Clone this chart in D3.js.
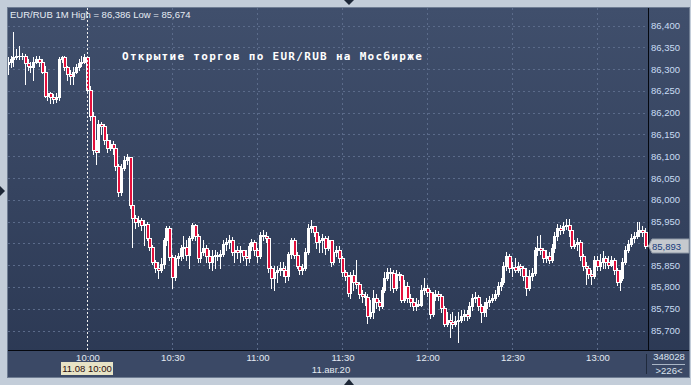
<!DOCTYPE html>
<html>
<head>
<meta charset="utf-8">
<script src="https://cdn.jsdelivr.net/npm/d3@7"></script>
<style>
html, body { margin: 0; padding: 0; background: #c3cdd9; }
svg { display: block; }
</style>
</head>
<body>
<div id="chart"></div>
<script>
// ---------------- data ----------------
const symbol = "EUR/RUB 1M";
const title = "Открытие торгов по EUR/RUB на Мосбирже";
const startTime = [2020, 7, 11, 9, 32];   // first 1-minute bar
const firstOpen = 86.311;
const closes = [
  86.317, 86.322, 86.327, 86.329, 86.331, 86.331, 86.315, 86.306, 86.304, 86.317,
  86.322, 86.317, 86.294, 86.239, 86.244, 86.237, 86.232, 86.237, 86.322, 86.327,
  86.304, 86.288, 86.285, 86.294, 86.304, 86.313, 86.317, 86.327, 86.253, 86.193,
  86.115, 86.110, 86.175, 86.170, 86.138, 86.120, 86.127, 86.120, 86.078, 86.018,
  86.074, 86.092, 86.099, 85.989, 85.959, 85.949, 85.954, 85.943, 85.945, 85.913,
  85.892, 85.857, 85.844, 85.839, 85.853, 85.908, 85.936, 85.869, 85.823, 85.867,
  85.871, 85.890, 85.892, 85.874, 85.913, 85.943, 85.917, 85.867, 85.880, 85.890,
  85.871, 85.857, 85.871, 85.874, 85.871, 85.876, 85.899, 85.903, 85.908, 85.880,
  85.885, 85.880, 85.885, 85.871, 85.867, 85.894, 85.903, 85.885, 85.871, 85.920,
  85.917, 85.913, 85.844, 85.821, 85.834, 85.839, 85.844, 85.839, 85.825, 85.876,
  85.908, 85.874, 85.848, 85.839, 85.844, 85.880, 85.936, 85.940, 85.926, 85.903,
  85.908, 85.913, 85.890, 85.908, 85.857, 85.880, 85.885, 85.867, 85.834, 85.825,
  85.786, 85.828, 85.811, 85.807, 85.784, 85.779, 85.777, 85.733, 85.742, 85.775,
  85.765, 85.756, 85.793, 85.821, 85.834, 85.832, 85.798, 85.830, 85.828, 85.770,
  85.802, 85.775, 85.765, 85.756, 85.761, 85.759, 85.793, 85.798, 85.788, 85.738,
  85.779, 85.784, 85.779, 85.752, 85.715, 85.724, 85.719, 85.715, 85.722, 85.724,
  85.733, 85.738, 85.733, 85.756, 85.775, 85.777, 85.756, 85.742, 85.752, 85.765,
  85.770, 85.775, 85.784, 85.802, 85.811, 85.848, 85.871, 85.844, 85.846, 85.839,
  85.848, 85.844, 85.825, 85.798, 85.825, 85.832, 85.885, 85.890, 85.885, 85.867,
  85.871, 85.862, 85.890, 85.917, 85.936, 85.931, 85.940, 85.943, 85.931, 85.894,
  85.899, 85.903, 85.871, 85.848, 85.844, 85.830, 85.825, 85.862, 85.848, 85.857,
  85.867, 85.857, 85.851, 85.862, 85.839, 85.811, 85.821, 85.857, 85.885, 85.899,
  85.913, 85.917, 85.926, 85.931, 85.926, 85.893
];
const highs = [
  86.327, 86.329, 86.386, 86.345, 86.352, 86.338, 86.334, 86.322, 86.317, 86.327,
  86.329, 86.329, 86.322, 86.306, 86.253, 86.248, 86.242, 86.244, 86.327, 86.331,
  86.329, 86.308, 86.299, 86.304, 86.311, 86.322, 86.329, 86.334, 86.331, 86.262,
  86.202, 86.138, 86.184, 86.179, 86.173, 86.150, 86.138, 86.136, 86.127, 86.081,
  86.081, 86.101, 86.104, 86.099, 85.993, 85.966, 85.963, 85.959, 85.954, 85.949,
  85.917, 85.897, 85.862, 85.857, 85.867, 85.913, 85.940, 85.940, 85.874, 85.874,
  85.878, 85.897, 85.917, 85.908, 85.917, 85.947, 85.945, 85.922, 85.917, 85.908,
  85.897, 85.885, 85.885, 85.885, 85.880, 85.885, 85.908, 85.913, 85.920, 85.915,
  85.897, 85.894, 85.894, 85.885, 85.885, 85.901, 85.910, 85.908, 85.890, 85.926,
  85.931, 85.926, 85.917, 85.848, 85.848, 85.848, 85.857, 85.857, 85.848, 85.880,
  85.913, 85.913, 85.880, 85.857, 85.853, 85.890, 85.945, 85.954, 85.940, 85.931,
  85.917, 85.922, 85.917, 85.917, 85.908, 85.890, 85.894, 85.894, 85.871, 85.839,
  85.828, 85.834, 85.839, 85.862, 85.811, 85.793, 85.788, 85.784, 85.770, 85.793,
  85.784, 85.770, 85.800, 85.834, 85.844, 85.844, 85.839, 85.839, 85.834, 85.830,
  85.816, 85.811, 85.784, 85.775, 85.775, 85.770, 85.805, 85.821, 85.805, 85.793,
  85.788, 85.793, 85.791, 85.784, 85.756, 85.742, 85.738, 85.742, 85.733, 85.742,
  85.747, 85.747, 85.747, 85.765, 85.784, 85.788, 85.782, 85.761, 85.765, 85.775,
  85.779, 85.784, 85.793, 85.811, 85.821, 85.857, 85.880, 85.876, 85.857, 85.867,
  85.857, 85.853, 85.848, 85.844, 85.839, 85.844, 85.892, 85.917, 85.920, 85.890,
  85.885, 85.880, 85.899, 85.926, 85.945, 85.943, 85.949, 85.956, 85.956, 85.936,
  85.908, 85.913, 85.908, 85.876, 85.857, 85.848, 85.839, 85.871, 85.871, 85.876,
  85.883, 85.871, 85.871, 85.871, 85.867, 85.844, 85.839, 85.867, 85.894, 85.908,
  85.922, 85.926, 85.949, 85.949, 85.940, 85.936
];
const lows = [
  86.288, 86.304, 86.308, 86.322, 86.322, 86.322, 86.265, 86.299, 86.294, 86.276,
  86.313, 86.308, 86.292, 86.235, 86.230, 86.223, 86.223, 86.225, 86.230, 86.317,
  86.299, 86.276, 86.265, 86.265, 86.292, 86.299, 86.308, 86.313, 86.248, 86.184,
  86.104, 86.081, 86.110, 86.150, 86.127, 86.110, 86.115, 86.104, 86.069, 86.009,
  86.012, 86.069, 86.081, 85.982, 85.892, 85.936, 85.940, 85.931, 85.897, 85.908,
  85.885, 85.853, 85.834, 85.821, 85.834, 85.844, 85.897, 85.862, 85.798, 85.816,
  85.851, 85.862, 85.867, 85.862, 85.844, 85.908, 85.908, 85.857, 85.857, 85.874,
  85.857, 85.844, 85.839, 85.844, 85.862, 85.844, 85.871, 85.885, 85.890, 85.874,
  85.857, 85.867, 85.857, 85.862, 85.851, 85.857, 85.885, 85.874, 85.857, 85.867,
  85.908, 85.903, 85.834, 85.798, 85.793, 85.811, 85.828, 85.825, 85.811, 85.816,
  85.867, 85.867, 85.844, 85.830, 85.830, 85.839, 85.876, 85.926, 85.917, 85.890,
  85.880, 85.880, 85.876, 85.885, 85.848, 85.853, 85.871, 85.857, 85.825, 85.816,
  85.779, 85.775, 85.793, 85.798, 85.775, 85.765, 85.759, 85.717, 85.729, 85.729,
  85.752, 85.747, 85.752, 85.788, 85.816, 85.793, 85.788, 85.793, 85.816, 85.765,
  85.765, 85.765, 85.756, 85.747, 85.747, 85.756, 85.756, 85.784, 85.779, 85.729,
  85.733, 85.770, 85.770, 85.742, 85.710, 85.710, 85.685, 85.706, 85.710, 85.674,
  85.719, 85.724, 85.724, 85.729, 85.747, 85.765, 85.747, 85.719, 85.733, 85.733,
  85.756, 85.765, 85.770, 85.779, 85.793, 85.807, 85.839, 85.834, 85.825, 85.834,
  85.834, 85.828, 85.816, 85.782, 85.793, 85.816, 85.828, 85.874, 85.876, 85.857,
  85.857, 85.855, 85.857, 85.880, 85.908, 85.922, 85.924, 85.933, 85.917, 85.890,
  85.890, 85.885, 85.862, 85.839, 85.807, 85.821, 85.807, 85.821, 85.839, 85.839,
  85.844, 85.844, 85.844, 85.848, 85.830, 85.805, 85.793, 85.816, 85.853, 85.880,
  85.894, 85.903, 85.913, 85.917, 85.917, 85.890
];
const priceTicks = [85.70, 85.75, 85.80, 85.85, 85.90, 85.95, 86.00, 86.05, 86.10, 86.15, 86.20, 86.25, 86.30, 86.35, 86.40];
const timeTicks = ["10:00", "10:30", "11:00", "11:30", "12:00", "12:30", "13:00"];
const cursorTime = "10:00";
const cursorLabel = "11.08 10:00";
const dateLabel = "11.авг.20";
const volumeLabel = "348028";
const barsLabel = ">226<";

// ---------------- setup ----------------
const w = 691;
const h = 385;
const plot = {left: 8, right: 648, top: 8, bottom: 350};
const panelRight = 689;
const panelBottom = 377;
const font = "Liberation Sans, Arial, sans-serif";

const ru = d3.formatLocale({decimal: ",", thousands: " ", grouping: [3], currency: ["", ""]});
const fmt = ru.format(".3f");
const parseHM = d3.timeParse("%H:%M");
const day = (hm) => {
  const t = parseHM(hm);
  return new Date(2020, 7, 11, t.getHours(), t.getMinutes());
};

const t0 = new Date(...startTime);
const candles = closes.map((c, i) => ({
  t: d3.timeMinute.offset(t0, i),
  o: i === 0 ? firstOpen : closes[i - 1],
  c: c,
  h: Math.max(highs[i], c, i === 0 ? firstOpen : closes[i - 1]),
  l: Math.min(lows[i], c, i === 0 ? firstOpen : closes[i - 1])
}));

const xScale = d3.scaleTime()
  .domain([t0, d3.timeMinute.offset(t0, 198 + 28)])
  .range([7.67, 7.67 + 226 * 2.8333]);
const yScale = d3.scaleLinear()
  .domain([85.7, 86.4])
  .range([330.5, 25.5]);

const svg = d3.select("#chart").append("svg")
  .attr("width", w)
  .attr("height", h);

const defs = svg.append("defs");
const grad = defs.append("linearGradient").attr("id", "bg").attr("x1", 0).attr("y1", 0).attr("x2", 0).attr("y2", 1);
grad.append("stop").attr("offset", "0%").attr("stop-color", "#404f6c");
grad.append("stop").attr("offset", "100%").attr("stop-color", "#2b3853");
defs.append("clipPath").attr("id", "clip").append("rect")
  .attr("x", plot.left).attr("y", plot.top)
  .attr("width", plot.right - plot.left).attr("height", plot.bottom - plot.top);

// ---------------- frame ----------------
svg.append("rect").attr("width", w).attr("height", h).attr("fill", "#c3cdd9");
svg.append("rect")
  .attr("x", plot.left - 0.5).attr("y", plot.top - 0.5)
  .attr("width", panelRight - plot.left + 1).attr("height", panelBottom - plot.top + 1)
  .attr("fill", "url(#bg)").attr("stroke", "#6f7d93");
svg.append("rect")
  .attr("x", plot.left).attr("y", plot.bottom)
  .attr("width", panelRight - plot.left).attr("height", panelBottom - plot.bottom)
  .attr("fill", "#3b4966");
svg.append("line")
  .attr("x1", plot.left).attr("x2", panelRight)
  .attr("y1", plot.bottom + 0.5).attr("y2", plot.bottom + 0.5)
  .attr("stroke", "#05080f");
svg.append("line")
  .attr("x1", plot.right + 0.5).attr("x2", plot.right + 0.5)
  .attr("y1", plot.top).attr("y2", plot.bottom)
  .attr("stroke", "#05080f");
svg.append("line")
  .attr("x1", plot.right - 1.5).attr("x2", plot.right - 1.5)
  .attr("y1", plot.bottom + 4).attr("y2", panelBottom - 3)
  .attr("stroke", "#1f2a3d");

// ---------------- grid ----------------
svg.append("g").selectAll("line")
  .data(priceTicks)
  .enter().append("line")
  .attr("x1", plot.left).attr("x2", plot.right)
  .attr("y1", d => Math.round(yScale(d)) + 0.5)
  .attr("y2", d => Math.round(yScale(d)) + 0.5)
  .attr("stroke", "#5b6b8a")
  .attr("stroke-dasharray", "2,3");

svg.append("g").selectAll("line")
  .data(timeTicks.filter(d => d !== cursorTime))
  .enter().append("line")
  .attr("x1", d => Math.round(xScale(day(d))) + 0.5)
  .attr("x2", d => Math.round(xScale(day(d))) + 0.5)
  .attr("y1", plot.top).attr("y2", plot.bottom)
  .attr("stroke", "#5b6b8a")
  .attr("stroke-dasharray", "2,3");

// ---------------- candles ----------------
const cg = svg.append("g").attr("clip-path", "url(#clip)");
const cx = d => Math.round(xScale(d.t));

cg.selectAll("line.wick")
  .data(candles)
  .enter().append("line")
  .attr("class", "wick")
  .attr("x1", d => cx(d) + 0.5).attr("x2", d => cx(d) + 0.5)
  .attr("y1", d => Math.round(yScale(d.h)))
  .attr("y2", d => Math.round(yScale(d.l)) + 1)
  .attr("stroke", "#ffffff");

const bodyTop = d => Math.round(yScale(Math.max(d.o, d.c)));
const bodyH = d => Math.max(1, Math.round(yScale(Math.min(d.o, d.c))) - bodyTop(d) + 1);

cg.selectAll("rect.body")
  .data(candles)
  .enter().append("rect")
  .attr("class", "body")
  .attr("x", d => cx(d) - 1)
  .attr("y", bodyTop)
  .attr("width", d => d.c < d.o ? 4 : 3)
  .attr("height", bodyH)
  .attr("fill", "#ffffff");

cg.selectAll("rect.down")
  .data(candles.filter(d => d.c < d.o && bodyH(d) > 2))
  .enter().append("rect")
  .attr("class", "down")
  .attr("x", d => cx(d))
  .attr("y", d => bodyTop(d) + 1)
  .attr("width", 2)
  .attr("height", d => bodyH(d) - 2)
  .attr("fill", "#e4103c");

// ---------------- cursor line ----------------
const xc = Math.round(xScale(day(cursorTime))) + 0.5;
svg.append("line")
  .attr("x1", xc).attr("x2", xc)
  .attr("y1", plot.top).attr("y2", plot.bottom)
  .attr("stroke", "#f0f0f0")
  .attr("stroke-dasharray", "2,2");

// ---------------- axes ----------------
svg.append("g").selectAll("text")
  .data(priceTicks)
  .enter().append("text")
  .attr("x", plot.right + 3)
  .attr("y", d => yScale(d) + 3.5)
  .attr("fill", "#c9dcf3")
  .style("font", "9.5px " + font)
  .text(d => fmt(d));

svg.append("g").selectAll("text")
  .data(timeTicks)
  .enter().append("text")
  .attr("x", d => xScale(day(d)) + 1)
  .attr("y", plot.bottom + 11)
  .attr("text-anchor", "middle")
  .attr("fill", "#e3e9f1")
  .style("font", "9.5px " + font)
  .text(d => d);

svg.append("rect")
  .attr("x", 61).attr("y", plot.bottom + 12)
  .attr("width", 52).attr("height", 13)
  .attr("fill", "#e7e3c6");
svg.append("text")
  .attr("x", 87).attr("y", plot.bottom + 22)
  .attr("text-anchor", "middle")
  .attr("fill", "#2a0c0c")
  .style("font", "9.5px " + font)
  .text(cursorLabel);
svg.append("text")
  .attr("x", 331).attr("y", plot.bottom + 23)
  .attr("text-anchor", "middle")
  .attr("fill", "#e3e9f1")
  .style("font", "9.5px " + font)
  .text(dateLabel);

// bottom-right info cell
svg.append("text")
  .attr("x", 669).attr("y", plot.bottom + 10)
  .attr("text-anchor", "middle")
  .attr("fill", "#dbe4ef")
  .style("font", "9.5px " + font)
  .text(volumeLabel);
svg.append("line")
  .attr("x1", 652).attr("x2", 685)
  .attr("y1", plot.bottom + 14.5).attr("y2", plot.bottom + 14.5)
  .attr("stroke", "#aab6c6");
svg.append("text")
  .attr("x", 669).attr("y", plot.bottom + 24)
  .attr("text-anchor", "middle")
  .attr("fill", "#dbe4ef")
  .style("font", "9.5px " + font)
  .text(barsLabel);

// last price marker
const last = candles[candles.length - 1].c;
const yl = Math.round(yScale(last));
svg.append("path")
  .attr("d", `M${plot.right + 0.5},${yl} L${plot.right + 4},${yl - 7} H${panelRight} V${yl + 7} H${plot.right + 4} Z`)
  .attr("fill", "#c5c9ce").attr("stroke", "#8e98a6");
svg.append("text")
  .attr("x", plot.right + 4).attr("y", yl + 3.5)
  .attr("fill", "#173a7c")
  .style("font", "9.5px " + font)
  .text(fmt(last));

// ---------------- texts ----------------
svg.append("text")
  .attr("x", 10).attr("y", 18)
  .attr("fill", "#e6ecf3")
  .style("font", "9.5px " + font)
  .text(`${symbol} High = ${fmt(d3.max(candles, d => d.h))} Low = ${fmt(d3.min(candles, d => d.l))}`);

svg.append("text")
  .attr("x", 122).attr("y", 59.5)
  .attr("fill", "#ffffff")
  .attr("letter-spacing", 1.3)
  .style("font", "bold 11px DejaVu Sans Mono, monospace")
  .text(title);

// small scroll markers on the frame
svg.append("path").attr("d", "M344,0 L354,0 L349,5 Z").attr("fill", "#1d2737");
svg.append("path").attr("d", "M344,385 L354,385 L349,379 Z").attr("fill", "#1d2737");
svg.append("path").attr("d", "M0,186 L0,196 L5,191 Z").attr("fill", "#1d2737");
</script>
</body>
</html>
